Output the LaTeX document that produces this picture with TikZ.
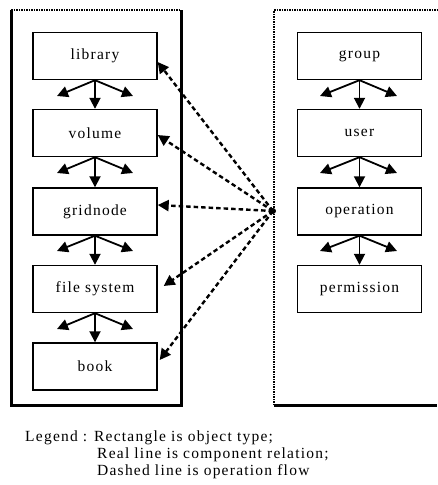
\documentclass[tikz,border=0pt]{standalone}
\usepackage{fontspec}
\setmainfont[LetterSpace=8]{Liberation Serif}
\usetikzlibrary{arrows.meta}
\begin{document}
\begin{tikzpicture}[x=1pt,y=-1pt,
  obj/.style={draw,line width=1.4pt,minimum width=124pt,minimum height=47pt,inner sep=0pt,font=\fontsize{15.5}{18}\selectfont},
  comp/.style={line width=1.8pt,-{Triangle[length=11pt,width=11pt]}},
  flow/.style={line width=2.4pt,dash pattern=on 4.5pt off 3pt,-{Triangle[length=11pt,width=11pt]}},
  legend/.style={anchor=base west,inner sep=0pt,font=\fontsize{15.5}{18}\selectfont}]
\useasboundingbox (0,0) rectangle (437,485);
\fill[white] (0,0) rectangle (437,485);
% containers
\draw[line width=3pt] (11,10) -- (11,405) -- (181,405) -- (181,10);
\draw[line width=2.5pt,dash pattern=on 1.5pt off 1pt] (11,10) -- (181,10);
\draw[line width=3pt] (274,405) -- (437,405);
\draw[line width=2pt,dash pattern=on 1.5pt off 1pt] (274,405) -- (274,10) -- (437,10);
% left boxes
\node[obj] (lib) at (95,56) {library};
\node[obj] (vol) at (95,133) {volume};
\node[obj] (grid) at (95,211.5) {gridnode};
\node[obj] (fs) at (95,289) {file system};
\node[obj] (book) at (95,366.5) {book};
% right boxes
\node[obj] (grp) at (359.5,56) {group};
\node[obj] (usr) at (359.5,133) {user};
\node[obj] (op) at (359.5,211.5) {operation};
\node[obj] (perm) at (359.5,289) {permission};
% component arrows
\foreach \a/\b/\y in {lib/vol/96,vol/grid/173,grid/fs/251,fs/book/329}{
  \coordinate (\a L) at (57,\y);
  \coordinate (\a R) at (133,\y);
  \draw[comp] (\a.south) -- (\b.north);
  \draw[comp] (\a.south) -- (\a L);
  \draw[comp] (\a.south) -- (\a R);
}
\foreach \a/\b/\y in {grp/usr/96,usr/op/173,op/perm/251}{
  \coordinate (\a L) at (320,\y);
  \coordinate (\a R) at (397,\y);
  \draw[comp] (\a.south) -- (\b.north);
  \draw[comp] (\a.south) -- (\a L);
  \draw[comp] (\a.south) -- (\a R);
}
% operation flow
\coordinate (hub) at (273,211);
\fill (hub) circle (3pt);
\draw[flow] (hub) -- (lib.east |- 0,62);
\draw[flow] (hub) -- (vol.east |- 0,135);
\draw[flow] (hub) -- (grid.east |- 0,205);
\draw[flow] (hub) -- ([xshift=6pt]fs.east |- 0,286);
\draw[flow] (hub) -- ([xshift=2pt]book.east |- 0,360);
% legend
\node[legend] (l1) at (25,441) {Legend : Rectangle is object type;};
\node[legend] (l2) at (97,458) {Real line is component relation;};
\node[legend] (l3) at (97,475) {Dashed line is operation flow};
\end{tikzpicture}
\end{document}
